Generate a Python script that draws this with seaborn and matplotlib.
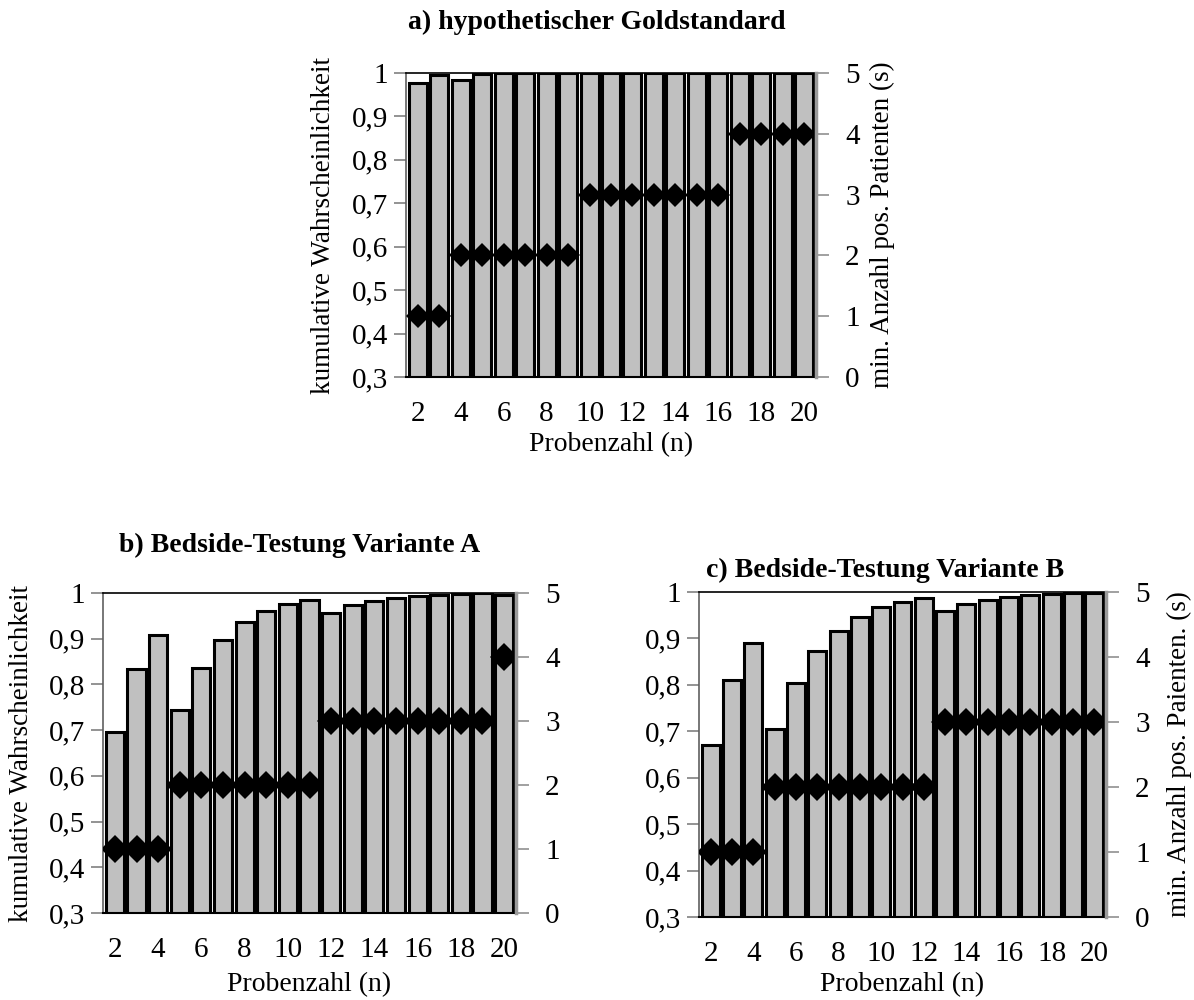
import matplotlib
matplotlib.use("Agg")
import matplotlib.pyplot as plt
import seaborn as sns
import numpy as np
import pandas as pd

sns.set_theme(style="white")
plt.rcParams['font.family'] = ['Liberation Serif', 'DejaVu Serif']
plt.rcParams['text.color'] = 'black'
plt.rcParams['axes.labelcolor'] = 'black'

n_vals = list(range(2, 21))
tick_labels = [str(v) for v in range(2, 21, 2)]

prob_a = [0.977, 0.996, 0.985, 0.998, 0.999, 0.999, 0.999, 0.999, 0.999, 0.999,
          0.999, 0.999, 0.999, 0.999, 0.999, 0.999, 0.999, 0.999, 0.999]
s_a = [1, 1, 2, 2, 2, 2, 2, 2, 3, 3, 3, 3, 3, 3, 3, 4, 4, 4, 4]

prob_b = [0.696, 0.833, 0.908, 0.743, 0.835, 0.897, 0.937, 0.961, 0.977, 0.985,
          0.957, 0.973, 0.982, 0.989, 0.993, 0.996, 0.998, 0.999, 0.996]
s_b = [1, 1, 1, 2, 2, 2, 2, 2, 2, 2, 3, 3, 3, 3, 3, 3, 3, 3, 4]

prob_c = [0.670, 0.811, 0.891, 0.705, 0.804, 0.872, 0.917, 0.947, 0.967, 0.979,
          0.987, 0.960, 0.974, 0.983, 0.989, 0.993, 0.996, 0.997, 0.998]
s_c = [1, 1, 1, 2, 2, 2, 2, 2, 2, 2, 2, 3, 3, 3, 3, 3, 3, 3, 3]

titles = ["a) hypothetischer Goldstandard",
          "b) Bedside-Testung Variante A",
          "c) Bedside-Testung Variante B"]
ylabel_left = "kumulative Wahrscheinlichkeit"
ylabel_right_a = "min. Anzahl pos. Patienten (s)"
ylabel_right_c = "min. Anzahl pos. Paienten. (s)"
xlabel = "Probenzahl (n)"
left_ticks = [0.3, 0.4, 0.5, 0.6, 0.7, 0.8, 0.9, 1.0]
left_tick_labels = ["0,3", "0,4", "0,5", "0,6", "0,7", "0,8", "0,9", "1"]
right_ticks = [0, 1, 2, 3, 4, 5]

W, H = 1194, 1000
fig = plt.figure(figsize=(W / 100, H / 100), dpi=100)

FS = 20
FST = 21
FSL = 19.5

def make(box, probs, svals, left_label, right_label, lx=None, rx=None, xly=985, ms=10):
    x0, x1, y0, y1 = box  # pixel coords: left, right, top, bottom
    rect = [x0 / W, 1 - y1 / H, (x1 - x0) / W, (y1 - y0) / H]
    ax = fig.add_axes(rect)
    df = pd.DataFrame({"n": [str(v) for v in n_vals], "p": probs, "s": svals})
    sns.barplot(data=df, x="n", y="p", color="#c0c0c0", saturation=1,
                edgecolor="black", linewidth=2.2, width=0.84, ax=ax)
    ax.set_ylim(0.3, 1.0)
    ax.set_xlim(-0.55, 18.55)
    ax.set_yticks(left_ticks)
    ax.set_yticklabels(left_tick_labels, fontsize=FST)
    ax.set_xticks(range(0, 19, 2))
    ax.set_xticklabels(tick_labels, fontsize=FST)
    ax.tick_params(axis="x", length=0, pad=17, labelcolor="black")
    ax.tick_params(axis="y", length=9, width=1.2, color="#808080", direction="out",
                   pad=4, labelcolor="black")
    ax.set_xlabel(xlabel, fontsize=FS)
    ax.xaxis.label.set_va("center")
    ax.xaxis.set_label_coords(0.5, -(xly - y1) / (y1 - y0))
    if left_label:
        ax.set_ylabel(left_label, fontsize=FSL)
        ax.yaxis.label.set_va("center")
        ax.yaxis.set_label_coords((lx - x0) / (x1 - x0), 0.5)
    else:
        ax.set_ylabel("")
    ax.spines["left"].set_color("#606060")
    ax.spines["left"].set_linewidth(1.2)
    ax.spines["top"].set_color("black")
    ax.spines["top"].set_linewidth(1.2)
    ax.spines["bottom"].set_color("black")
    ax.spines["bottom"].set_linewidth(1.5)
    ax.spines["right"].set_visible(False)

    ax2 = ax.twinx()
    x_pos = np.arange(len(n_vals))
    ax2.plot(x_pos, svals, linestyle="none", marker="D", markersize=ms,
             markeredgewidth=0, color="black")
    ax2.set_ylim(0, 5)
    ax2.set_yticks(right_ticks)
    ax2.set_yticklabels([str(t) for t in right_ticks], fontsize=FST)
    ax2.tick_params(axis="y", length=9, width=1.2, color="#909090", direction="out",
                    pad=12, labelcolor="black")
    ax2.grid(False)
    for sp in ["left", "top", "bottom"]:
        ax2.spines[sp].set_visible(False)
    ax2.spines["right"].set_color("#9a9a9a")
    ax2.spines["right"].set_linewidth(2.5)
    if right_label:
        ax2.set_ylabel(right_label, fontsize=FSL)
        ax2.yaxis.label.set_va("center")
        ax2.yaxis.set_label_coords((rx - x0) / (x1 - x0), 0.5)
    ax.grid(False)
    return ax, ax2

make((406, 816, 73, 377), prob_a, s_a, ylabel_left, ylabel_right_a, lx=323, rx=882,
     xly=445, ms=12)
make((103, 516, 593, 913), prob_b, s_b, ylabel_left, None, lx=22, xly=985, ms=14)
make((699, 1106, 592, 917), prob_c, s_c, None, ylabel_right_c, rx=1179, xly=985, ms=14)

fig.text(597 / W, 1 - 22 / H, titles[0], ha="center", va="center", fontsize=FS, fontweight="bold")
fig.text(300 / W, 1 - 545 / H, titles[1], ha="center", va="center", fontsize=FS, fontweight="bold")
fig.text(885 / W, 1 - 570 / H, titles[2], ha="center", va="center", fontsize=FS, fontweight="bold")

fig.savefig("out.png", dpi=100, facecolor="white")
